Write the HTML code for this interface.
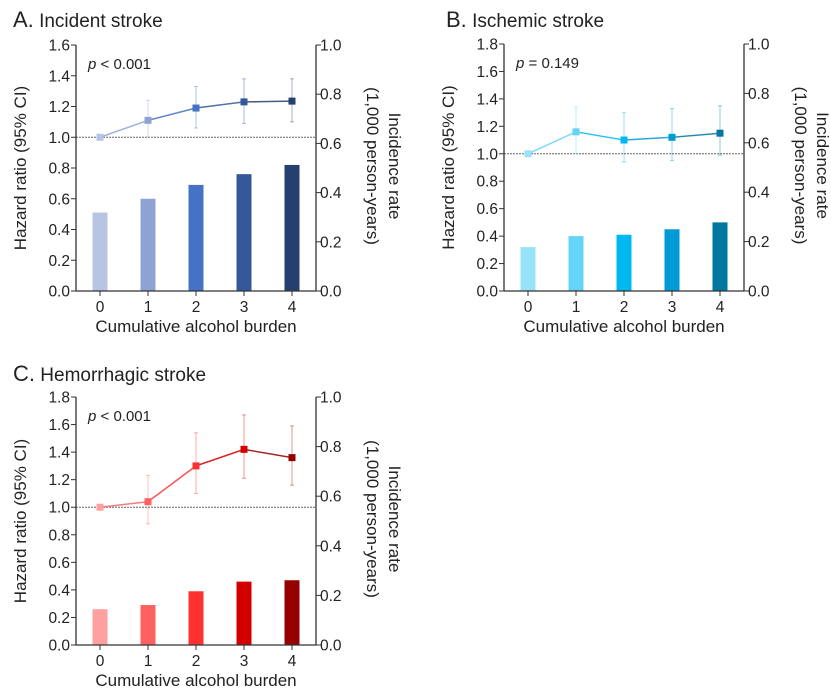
<!DOCTYPE html>
<html><head><meta charset="utf-8"><style>
body{margin:0;background:#fff}
svg{display:block;font-family:"Liberation Sans",sans-serif}
</style></head><body>
<svg id="fig" width="831" height="692" viewBox="0 0 831 692"></svg>
<script>
const categories=[0,1,2,3,4];
const incidentBars=[0.51,0.60,0.69,0.76,0.82];
const incidentHR=[1.0,1.11,1.19,1.23,1.235];
const incidentLo=[1.0,1.0,1.06,1.09,1.10];
const incidentHi=[1.0,1.24,1.33,1.38,1.38];
const ischemicBars=[0.32,0.40,0.41,0.45,0.50];
const ischemicHR=[1.0,1.16,1.10,1.12,1.15];
const ischemicLo=[1.0,1.0,0.94,0.95,0.99];
const ischemicHi=[1.0,1.34,1.30,1.33,1.35];
const hemoBars=[0.26,0.29,0.39,0.46,0.47];
const hemoHR=[1.0,1.04,1.30,1.42,1.36];
const hemoLo=[1.0,0.88,1.10,1.21,1.16];
const hemoHi=[1.0,1.23,1.54,1.67,1.59];
const leftTicksA=["0.0","0.2","0.4","0.6","0.8","1.0","1.2","1.4","1.6"];
const leftTicksBC=["0.0","0.2","0.4","0.6","0.8","1.0","1.2","1.4","1.6","1.8"];
const rightTicks=["0.0","0.2","0.4","0.6","0.8","1.0"];
const NS="http://www.w3.org/2000/svg";
const svg=document.getElementById('fig');
function mk(tag,attrs,parent,text){const e=document.createElementNS(NS,tag);for(const k in attrs)e.setAttribute(k,attrs[k]);if(text!==undefined)e.textContent=text;(parent||svg).appendChild(e);return e;}
function panel(o){
  const g=mk('g',{});
  
  
  const L=o.x0,R=o.x0+240,T=o.top,B=o.bottom,max=o.max;
  const y=v=>B-(v/max)*(B-T);
  const yr=v=>B-v*(B-T);
  const x=i=>L+24+i*48;
  const t=mk('text',{x:o.tx,y:o.ty,'font-size':19,fill:'#222'},g);
  
  mk('tspan',{'font-size':22},t,o.letter);mk('tspan',{},t,' '+o.title);
  o.bars.forEach((v,i)=>{const r=mk('rect',{x:x(i)-7.5,y:y(v),width:15,height:B-y(v),fill:o.colors[i]},g);
    });
  const rl=mk('line',{x1:L,x2:R,y1:y(1),y2:y(1),stroke:'#666','stroke-width':1,'stroke-dasharray':'2,1'},g);
  
  o.hr.forEach((v,i)=>{if(i===0)return;const c=o.colors[i];
    mk('line',{x1:x(i),x2:x(i),y1:y(o.lo[i]),y2:y(o.hi[i]),stroke:c,'stroke-width':1,opacity:0.4},g);
    mk('line',{x1:x(i)-2,x2:x(i)+2,y1:y(o.lo[i]),y2:y(o.lo[i]),stroke:c,opacity:0.4},g);
    mk('line',{x1:x(i)-2,x2:x(i)+2,y1:y(o.hi[i]),y2:y(o.hi[i]),stroke:c,opacity:0.4},g);});
  for(let i=0;i<4;i++){mk('line',{x1:x(i),y1:y(o.hr[i]),x2:x(i+1),y2:y(o.hr[i+1]),stroke:o.colors[i+1],'stroke-width':1.5,opacity:0.85},g);}
  o.hr.forEach((v,i)=>{const p=mk('rect',{x:x(i)-3.5,y:y(v)-3.5,width:7,height:7,fill:o.colors[i]},g);
    });
  mk('line',{x1:L,x2:L,y1:T,y2:B,stroke:'#333','stroke-width':1.3},g);
  mk('line',{x1:R,x2:R,y1:T,y2:B,stroke:'#333','stroke-width':1.3},g);
  mk('line',{x1:L,x2:R,y1:B,y2:B,stroke:'#333','stroke-width':1.3},g);
  o.lt.forEach(s=>{const yy=y(parseFloat(s));mk('line',{x1:L-5,x2:L,y1:yy,y2:yy,stroke:'#333'},g);
    mk('text',{x:L-6,y:yy+5.5,'font-size':15.5,'text-anchor':'end',fill:'#222'},g,s);});
  rightTicks.forEach(s=>{const yy=yr(parseFloat(s));mk('line',{x1:R,x2:R+5,y1:yy,y2:yy,stroke:'#333'},g);
    mk('text',{x:R+4,y:yy+5.5,'font-size':15.5,fill:'#222'},g,s);});
  categories.forEach((c,i)=>{mk('line',{x1:x(i),x2:x(i),y1:B,y2:B+5,stroke:'#333'},g);
    mk('text',{x:x(i),y:B+21,'font-size':15.5,'text-anchor':'middle',fill:'#222'},g,String(c));});
  const xt=mk('text',{x:(L+R)/2,y:B+41,'font-size':17,'text-anchor':'middle',fill:'#222'},g,'Cumulative alcohol burden');
  
  const ly=mk('text',{transform:`translate(${L-50},${(T+B)/2}) rotate(-90)`,'font-size':17,'text-anchor':'middle',fill:'#222'},g,'Hazard ratio (95% CI)');
  
  const ry=mk('text',{transform:`translate(${R+73},${(T+B)/2-2}) rotate(90)`,'font-size':17,'text-anchor':'middle',fill:'#222'},g);
  
  mk('tspan',{x:0,dy:0},ry,'Incidence rate');mk('tspan',{x:0,dy:22},ry,'(1,000  person-years)');
  const pt=mk('text',{x:L+12,y:T+24,'font-size':15,fill:'#222'},g);
  
  mk('tspan',{'font-style':'italic'},pt,'p');mk('tspan',{},pt,o.p);
}
panel({name:'panel-incident-stroke',letter:'A.',title:'Incident stroke',tx:13,ty:27,x0:76,top:45,bottom:291,max:1.6,lt:leftTicksA,
  bars:incidentBars,hr:incidentHR,lo:incidentLo,hi:incidentHi,p:' < 0.001',
  colors:['#b8c4e4','#8ea3d4','#4472c4','#35589a','#253f6e']});
panel({name:'panel-ischemic-stroke',letter:'B.',title:'Ischemic stroke',tx:446,ty:27,x0:504,top:44,bottom:291,max:1.8,lt:leftTicksBC,
  bars:ischemicBars,hr:ischemicHR,lo:ischemicLo,hi:ischemicHi,p:' = 0.149',
  colors:['#99e3f8','#66d4f8','#00b8f0','#009bd4','#0077a0']});
panel({name:'panel-hemorrhagic-stroke',letter:'C.',title:'Hemorrhagic stroke',tx:13,ty:381,x0:76,top:397,bottom:645,max:1.8,lt:leftTicksBC,
  bars:hemoBars,hr:hemoHR,lo:hemoLo,hi:hemoHi,p:' < 0.001',
  colors:['#ffa0a0','#ff6060','#ff3030','#d40000','#960000']});
</script>
</body></html>
